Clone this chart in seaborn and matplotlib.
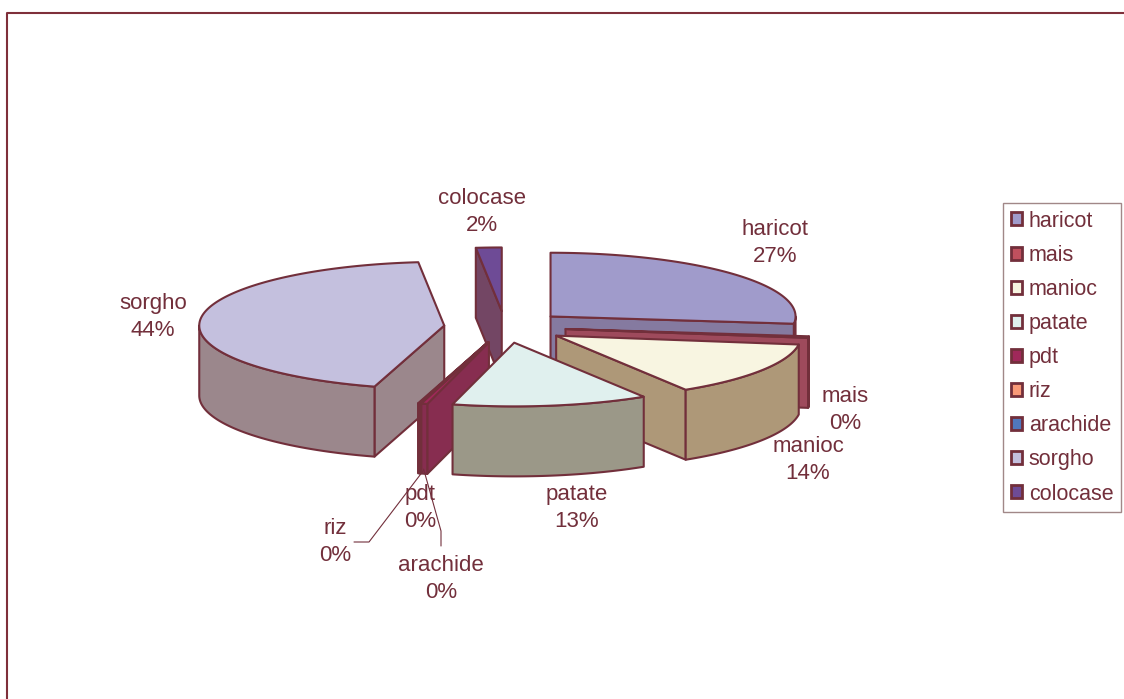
import numpy as np
import pandas as pd
import matplotlib
matplotlib.use("Agg")
import matplotlib.pyplot as plt
from matplotlib.patches import Patch
import seaborn as sns

# data (share of each crop)
crops = ["haricot", "mais", "manioc", "patate", "pdt", "riz", "arachide", "sorgho", "colocase"]
values = [27, 0.4, 14, 13, 0.4, 0.05, 0.1, 44, 1.7]

top_colors = ["#A09BCB", "#C0505E", "#F8F5E1", "#E0F0EE", "#A0285A",
              "#F99A78", "#5078BE", "#C4C0DE", "#6E4B96"]
side_colors = ["#857AA0", "#9E4A5C", "#AE9878", "#9B9888", "#872D50",
               "#C87864", "#466EAA", "#9B878C", "#734664"]

# label block centres (pixels)
label_pos = [(775, 243), (845, 410), (808, 460), (577, 508), (420, 508),
             (335, 542), (441, 579), (153, 317), (482, 212)]

df = pd.DataFrame({"crop": crops, "value": values})
df["pct"] = (100 * df["value"] / df["value"].sum()).round().astype(int)

sns.set_theme(style="white")
plt.rcParams["font.family"] = ["Liberation Sans", "DejaVu Sans"]

EDGE = "#722F3B"
TXT = "#722F3B"

# pseudo-3D pie geometry (pixels)
CX, CY, R, K, H, EXPL = 505, 327, 245, 0.26, 70, 61

fig = plt.figure(figsize=(11.24, 6.99), dpi=100)
ax = fig.add_axes([0, 0, 1, 1])
ax.set_xlim(0, 1124)
ax.set_ylim(699, 0)
ax.axis("off")


def pt(c, phi, r, z=0.0):
    a = np.radians(phi)
    return c[0] + r * np.sin(a), c[1] - K * r * np.cos(a) + z


ends = np.cumsum(df["value"]) / df["value"].sum() * 360
starts = np.concatenate([[0], ends[:-1]])
mids = (starts + ends) / 2
centers = [pt((CX, CY), m, EXPL) for m in mids]

order = np.argsort(-np.cos(np.radians(mids)))
z = 2
for i in order:
    p1, p2, c = starts[i], ends[i], centers[i]
    kw = dict(edgecolor=EDGE, linewidth=1.5, joinstyle="round")
    # radial (cut) walls facing the viewer
    for edge, front in [(p1, np.sin(np.radians(p1)) < 0), (p2, np.sin(np.radians(p2)) > 0)]:
        if front:
            ex, ey = pt(c, edge, R)
            ax.fill([c[0], ex, ex, c[0]], [c[1], ey, ey + H, c[1] + H],
                    facecolor=side_colors[i], zorder=z, **kw)
            z += 1
    # outer front wall
    lo, hi = max(p1, 90), min(p2, 270)
    if hi > lo:
        ph = np.linspace(lo, hi, max(2, int(hi - lo) * 2 + 2))
        xs, ys = pt(c, ph, R)
        ax.fill(np.concatenate([xs, xs[::-1]]), np.concatenate([ys, ys[::-1] + H]),
                facecolor=side_colors[i], zorder=z, **kw)
        z += 1
    # top face
    ph = np.linspace(p1, p2, max(2, int(p2 - p1) * 2 + 2))
    xs, ys = pt(c, ph, R)
    ax.fill(np.concatenate([[c[0]], xs]), np.concatenate([[c[1]], ys]),
            facecolor=top_colors[i], zorder=z, **kw)
    z += 1

# data labels
for i, (lx, ly) in enumerate(label_pos):
    ax.text(lx, ly, f"{df['crop'][i]}\n{df['pct'][i]}%", ha="center", va="center",
            color=TXT, fontsize=16, linespacing=1.4, zorder=50)

# leader lines for riz and arachide
riz = crops.index("riz")
bx, by = pt(centers[riz], mids[riz], R * 0.95, H)
ax.plot([label_pos[riz][0] + 19, label_pos[riz][0] + 34, bx], [label_pos[riz][1]] * 2 + [by],
        color=EDGE, lw=0.8, zorder=49)
ara = crops.index("arachide")
bx, by = pt(centers[ara], mids[ara], R * 0.93, H)
ax.plot([label_pos[ara][0], label_pos[ara][0], bx], [label_pos[ara][1] - 33, label_pos[ara][1] - 48, by],
        color=EDGE, lw=0.8, zorder=49)

# chart frame
ax.plot([7, 7, 1130], [705, 13, 13], color="#7F2F3A", lw=1.5, zorder=60)

handles = [Patch(facecolor=top_colors[i], edgecolor=EDGE, linewidth=2) for i in range(len(crops))]
leg = ax.legend(handles, crops, loc="upper left", bbox_to_anchor=(1003 / 1124, 1 - 203 / 699),
                bbox_transform=fig.transFigure, borderaxespad=0, frameon=True, fancybox=False,
                fontsize=15.5, labelcolor=TXT, handlelength=0.55, handleheight=0.55,
                handletextpad=0.3, labelspacing=0.61, borderpad=0.35)
leg.get_frame().set_edgecolor("#8A6A6A")
leg.get_frame().set_linewidth(1)

fig.savefig("out.png", dpi=100)
